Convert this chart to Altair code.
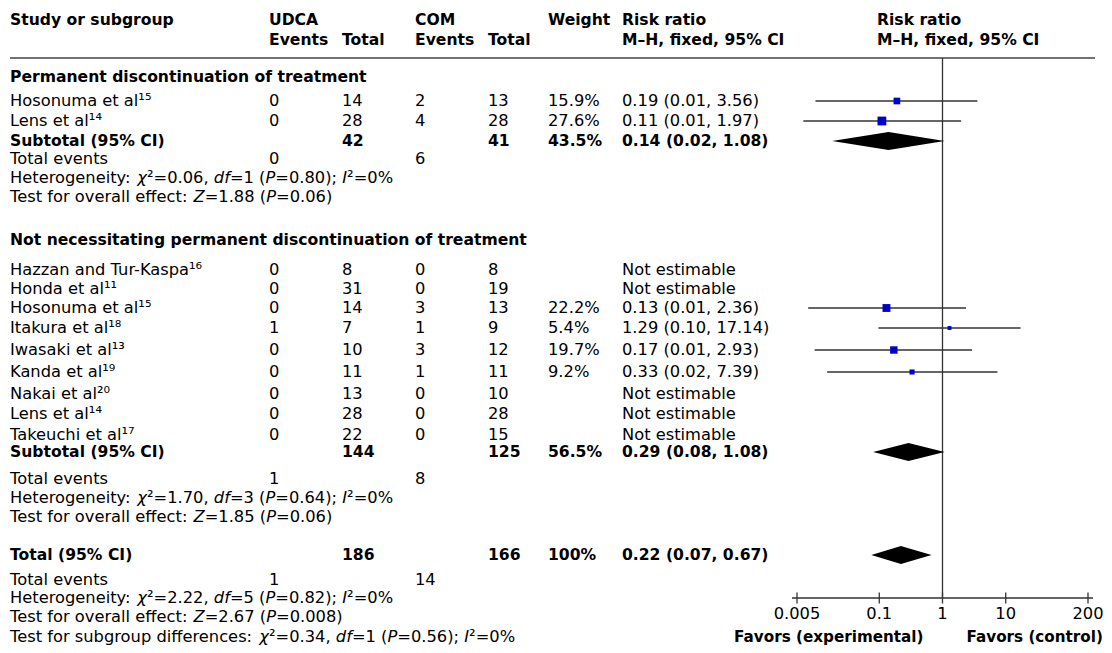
import altair as alt
import pandas as pd

# ---------------- data ----------------
subgroup_titles = ["Permanent discontinuation of treatment",
                   "Not necessitating permanent discontinuation of treatment"]

study_names = ["Hosonuma et al¹⁵", "Lens et al¹⁴",
               "Hazzan and Tur-Kaspa¹⁶", "Honda et al¹¹", "Hosonuma et al¹⁵",
               "Itakura et al¹⁸", "Iwasaki et al¹³", "Kanda et al¹⁹",
               "Nakai et al²⁰", "Lens et al¹⁴", "Takeuchi et al¹⁷"]
udca_events = [0, 0, 0, 0, 0, 1, 0, 0, 0, 0, 0]
udca_total = [14, 28, 8, 31, 14, 7, 10, 11, 13, 28, 22]
com_events = [2, 4, 0, 0, 3, 1, 3, 1, 0, 0, 0]
com_total = [13, 28, 8, 19, 13, 9, 12, 11, 10, 28, 15]
weight_pct = [15.9, 27.6, None, None, 22.2, 5.4, 19.7, 9.2, None, None, None]
rr_est = [0.19, 0.11, None, None, 0.13, 1.29, 0.17, 0.33, None, None, None]
rr_low = [0.0098, 0.0063, None, None, 0.0075, 0.097, 0.0095, 0.015, None, None, None]
rr_high = [3.56, 1.97, None, None, 2.36, 17.14, 2.93, 7.39, None, None, None]
rr_text = ["0.19 (0.01, 3.56)", "0.11 (0.01, 1.97)", "Not estimable", "Not estimable",
           "0.13 (0.01, 2.36)", "1.29 (0.10, 17.14)", "0.17 (0.01, 2.93)",
           "0.33 (0.02, 7.39)", "Not estimable", "Not estimable", "Not estimable"]

pooled_labels = ["Subtotal (95% CI)", "Subtotal (95% CI)", "Total (95% CI)"]
pooled_udca_total = [42, 144, 186]
pooled_com_total = [41, 125, 166]
pooled_weight = ["43.5%", "56.5%", "100%"]
pooled_est = [0.14, 0.29, 0.22]
pooled_low = [0.018, 0.08, 0.075]
pooled_high = [1.08, 1.08, 0.67]
pooled_text = ["0.14 (0.02, 1.08)", "0.29 (0.08, 1.08)", "0.22 (0.07, 0.67)"]
pooled_udca_events = [0, 1, 1]
pooled_com_events = [6, 8, 14]
# *...* marks the italic parts
heterogeneity = ["Heterogeneity: *χ*²=0.06, *df*=1 (*P*=0.80); *I*²=0%",
                 "Heterogeneity: *χ*²=1.70, *df*=3 (*P*=0.64); *I*²=0%",
                 "Heterogeneity: *χ*²=2.22, *df*=5 (*P*=0.82); *I*²=0%"]
overall_effect = ["Test for overall effect: *Z*=1.88 (*P*=0.06)",
                  "Test for overall effect: *Z*=1.85 (*P*=0.06)",
                  "Test for overall effect: *Z*=2.67 (*P*=0.008)"]
subgroup_diff = "Test for subgroup differences: *χ*²=0.34, *df*=1 (*P*=0.56); *I*²=0%"

axis_ticks = [0.005, 0.1, 1, 10, 200]
axis_labels = ["0.005", "0.1", "1", "10", "200"]
favors_labels = ["Favors (experimental)", "Favors (control)"]

# ---------------- layout (table positions, page pixels) ----------------
PAGE = 8
W, H = 1096, 637
COL = dict(study=10, udca_ev=269, udca_n=342, com_ev=415, com_n=488,
           weight=548, rr=622, plot=877, rule_end=1095)
Y_HEAD = [20, 40]
Y_RULE = 58
Y_TITLE = [77, 240]
Y_STUDY = [101, 121, 270, 289, 308, 328, 350, 372, 394, 414, 435]
Y_POOLED = [141, 452, 555]
Y_EVENTS = [159, 479, 580]
Y_HET = [178, 498, 598]
Y_EFFECT = [197, 517, 617]
Y_SUBDIFF = 637
Y_AXIS = 598
Y_TICKLAB = 614
Y_FAVORS = 637
X_LOG_RANGE = (797, 1088)
DIAMOND_HALF = 9

FONT = "DejaVu Sans"
FS = 16.3
FSB = 15.6
FS_FAV = 15.2
INK = "#000000"
LINE = "#333333"
BLUE = "#0000CC"

# DejaVu Sans advance widths (em) used to place italic runs inside a line
ADV = {" ": 0.318, "%": 0.950, "(": 0.390, ")": 0.390, ",": 0.318, ".": 0.318,
       ":": 0.337, ";": 0.337, "=": 0.838, "²": 0.401, "χ": 0.592,
       "H": 0.752, "I": 0.295, "P": 0.603, "T": 0.611, "Z": 0.685,
       "a": 0.613, "b": 0.635, "c": 0.550, "d": 0.635, "e": 0.615, "f": 0.352,
       "g": 0.635, "i": 0.278, "l": 0.278, "n": 0.634, "o": 0.612, "p": 0.635,
       "r": 0.411, "s": 0.521, "t": 0.392, "u": 0.634, "v": 0.592, "y": 0.592}
for _d in "0123456789":
    ADV[_d] = 0.636
KERN = {"Te": -0.10, "ff": -0.02, "ef": -0.02}


def run_width(s, size):
    w = sum(ADV.get(c, 0.6) for c in s)
    w += sum(KERN.get(s[j:j + 2], 0.0) for j in range(len(s) - 1))
    return w * size


# ---------------- tables ----------------
reg, bold, ital = [], [], []


def put(lst, x, y, t):
    lst.append({"px": x, "py": y, "t": str(t)})


def put_mixed(x, y, marked):
    parts = marked.split("*")
    cur = x
    for j, part in enumerate(parts):
        if not part:
            continue
        put(ital if j % 2 == 1 else reg, cur, y, part)
        cur += run_width(part, FS)


# header
put(bold, COL["study"], Y_HEAD[0], "Study or subgroup")
put(bold, COL["udca_ev"], Y_HEAD[0], "UDCA")
put(bold, COL["com_ev"], Y_HEAD[0], "COM")
put(bold, COL["weight"], Y_HEAD[0], "Weight")
put(bold, COL["rr"], Y_HEAD[0], "Risk ratio")
put(bold, COL["plot"], Y_HEAD[0], "Risk ratio")
put(bold, COL["udca_ev"], Y_HEAD[1], "Events")
put(bold, COL["udca_n"], Y_HEAD[1], "Total")
put(bold, COL["com_ev"], Y_HEAD[1], "Events")
put(bold, COL["com_n"], Y_HEAD[1], "Total")
put(bold, COL["rr"], Y_HEAD[1], "M–H, fixed, 95% CI")
put(bold, COL["plot"], Y_HEAD[1], "M–H, fixed, 95% CI")

for g, t in enumerate(subgroup_titles):
    put(bold, COL["study"], Y_TITLE[g], t)

forest = []
for i, name in enumerate(study_names):
    y = Y_STUDY[i]
    put(reg, COL["study"], y, name)
    put(reg, COL["udca_ev"], y, udca_events[i])
    put(reg, COL["udca_n"], y, udca_total[i])
    put(reg, COL["com_ev"], y, com_events[i])
    put(reg, COL["com_n"], y, com_total[i])
    if weight_pct[i] is not None:
        put(reg, COL["weight"], y, f"{weight_pct[i]}%")
    put(reg, COL["rr"], y, rr_text[i])
    if rr_est[i] is not None:
        forest.append({"est": rr_est[i], "lo": rr_low[i], "hi": rr_high[i],
                       "w": weight_pct[i], "py": y})

diamonds = []
for k in range(3):
    y = Y_POOLED[k]
    put(bold, COL["study"], y, pooled_labels[k])
    put(bold, COL["udca_n"], y, pooled_udca_total[k])
    put(bold, COL["com_n"], y, pooled_com_total[k])
    put(bold, COL["weight"], y, pooled_weight[k])
    put(bold, COL["rr"], y, pooled_text[k])
    for xv, h in ((pooled_low[k], 0), (pooled_est[k], DIAMOND_HALF), (pooled_high[k], 0)):
        diamonds.append({"id": k, "x": xv, "y1": y - h, "y2": y + h})
    ye = Y_EVENTS[k]
    put(reg, COL["study"], ye, "Total events")
    put(reg, COL["udca_ev"], ye, pooled_udca_events[k])
    put(reg, COL["com_ev"], ye, pooled_com_events[k])
    put_mixed(COL["study"], Y_HET[k], heterogeneity[k])
    put_mixed(COL["study"], Y_EFFECT[k], overall_effect[k])
put_mixed(COL["study"], Y_SUBDIFF, subgroup_diff)

reg_df = pd.DataFrame(reg)
bold_df = pd.DataFrame(bold)
ital_df = pd.DataFrame(ital)
forest_df = pd.DataFrame(forest)
diamond_df = pd.DataFrame(diamonds)
tick_df = pd.DataFrame({"v": axis_ticks, "lab": axis_labels, "py": Y_AXIS, "ly": Y_TICKLAB})

# ---------------- scales ----------------
xs_text = alt.Scale(domain=[PAGE, PAGE + W], range=[0, W], nice=False, zero=False)
xs_log = alt.Scale(type="log", domain=[axis_ticks[0], axis_ticks[-1]],
                   range=[X_LOG_RANGE[0] - PAGE, X_LOG_RANGE[1] - PAGE], nice=False)
ys = alt.Scale(domain=[PAGE, PAGE + H], range=[0, H], nice=False, zero=False)


def text_layer(df, weight, size, style="normal"):
    return alt.Chart(df).mark_text(
        align="left", baseline="middle", font=FONT, fontSize=size,
        fontWeight=weight, fontStyle=style, color=INK
    ).encode(
        x=alt.X("px:Q", scale=xs_text, axis=None),
        y=alt.Y("py:Q", scale=ys, axis=None),
        text="t:N",
    )


t_reg = text_layer(reg_df, "normal", FS)
t_ital = text_layer(ital_df, "normal", FS, "italic")
t_bold = text_layer(bold_df, "bold", FSB)

head_rule = alt.Chart(pd.DataFrame({"a": [COL["study"]], "b": [COL["rule_end"]], "py": [Y_RULE]})).mark_rule(
    color="#444444", strokeWidth=1.6
).encode(
    x=alt.X("a:Q", scale=xs_text, axis=None),
    x2="b:Q",
    y=alt.Y("py:Q", scale=ys, axis=None),
)

ref_line = alt.Chart(pd.DataFrame({"v": [1], "a": [Y_RULE], "b": [Y_AXIS]})).mark_rule(
    color=LINE, strokeWidth=1.3
).encode(
    x=alt.X("v:Q", scale=xs_log, axis=None),
    y=alt.Y("a:Q", scale=ys, axis=None),
    y2="b:Q",
)

ci = alt.Chart(forest_df).mark_rule(color=LINE, strokeWidth=1.3).encode(
    x=alt.X("lo:Q", scale=xs_log, axis=None),
    x2="hi:Q",
    y=alt.Y("py:Q", scale=ys, axis=None),
)

squares = alt.Chart(forest_df).mark_square(color=BLUE, opacity=1).encode(
    x=alt.X("est:Q", scale=xs_log, axis=None),
    y=alt.Y("py:Q", scale=ys, axis=None),
    size=alt.Size("w:Q", scale=alt.Scale(domain=[0, 30], range=[0, 84]), legend=None),
)

diam = alt.Chart(diamond_df).mark_area(color="#000000", opacity=1).encode(
    x=alt.X("x:Q", scale=xs_log, axis=None),
    y=alt.Y("y1:Q", scale=ys, axis=None),
    y2="y2:Q",
    detail="id:N",
)

axis_line = alt.Chart(pd.DataFrame({"a": [axis_ticks[0]], "b": [axis_ticks[-1]], "py": [Y_AXIS]})).mark_rule(
    color=LINE, strokeWidth=1.4, xOffset=-5, x2Offset=5
).encode(
    x=alt.X("a:Q", scale=xs_log, axis=None),
    x2="b:Q",
    y=alt.Y("py:Q", scale=ys, axis=None),
)

ticks = alt.Chart(tick_df).mark_tick(orient="vertical", size=11, thickness=1.3, color=LINE, opacity=1).encode(
    x=alt.X("v:Q", scale=xs_log, axis=None),
    y=alt.Y("py:Q", scale=ys, axis=None),
)

tick_labels = alt.Chart(tick_df).mark_text(
    align="center", baseline="middle", font=FONT, fontSize=FS, color=INK
).encode(
    x=alt.X("v:Q", scale=xs_log, axis=None),
    y=alt.Y("ly:Q", scale=ys, axis=None),
    text="lab:N",
)

fav_df = pd.DataFrame({"v": [1, 1], "py": [Y_FAVORS, Y_FAVORS], "t": favors_labels})
fav_left = alt.Chart(fav_df.iloc[[0]]).mark_text(
    align="right", baseline="middle", font=FONT, fontSize=FS_FAV, fontWeight="bold", color=INK, dx=-19
).encode(
    x=alt.X("v:Q", scale=xs_log, axis=None),
    y=alt.Y("py:Q", scale=ys, axis=None),
    text="t:N",
)
fav_right = alt.Chart(fav_df.iloc[[1]]).mark_text(
    align="left", baseline="middle", font=FONT, fontSize=FS_FAV, fontWeight="bold", color=INK, dx=24
).encode(
    x=alt.X("v:Q", scale=xs_log, axis=None),
    y=alt.Y("py:Q", scale=ys, axis=None),
    text="t:N",
)

chart = alt.layer(
    head_rule, ref_line, ci, diam, squares, axis_line, ticks, tick_labels,
    fav_left, fav_right, t_reg, t_ital, t_bold
).resolve_scale(x="independent").properties(
    width=W, height=H, padding=0, background="white"
).configure_view(stroke=None)

chart.save("out.html", embed_options={"renderer": "svg", "actions": False})
